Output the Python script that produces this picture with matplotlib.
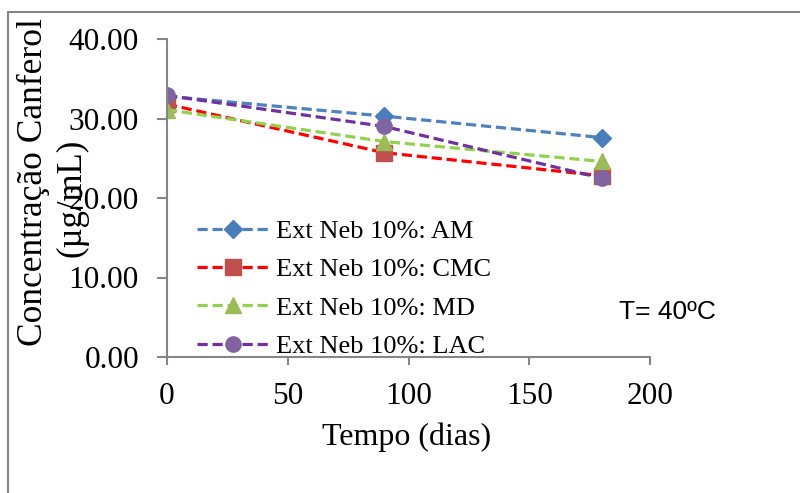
import matplotlib
matplotlib.use('Agg')
import matplotlib.pyplot as plt
from matplotlib.patches import Rectangle
from matplotlib.ticker import FormatStrFormatter

# dados
dias = [0, 90, 180]
am = [32.8, 30.3, 27.6]
cmc = [31.8, 25.7, 22.8]
md = [31.1, 27.1, 24.6]
lac = [32.9, 29.0, 22.5]
rotulos = ['Ext Neb 10%: AM', 'Ext Neb 10%: CMC', 'Ext Neb 10%: MD', 'Ext Neb 10%: LAC']

plt.rcParams['font.family'] = ['Liberation Serif', 'DejaVu Serif']

fig = plt.figure(figsize=(8, 4.93), dpi=100)
ax = fig.add_axes([167/800, 1-357/493, (650-167)/800, (357-39)/493])

cinza = '#868686'
estilo = dict(linestyle=(0, (3.2, 1.5)), linewidth=2.3, markersize=11)
ax.plot(dias, am, color='#4F81BD', marker='D', markerfacecolor='#4A7EBB',
        markeredgecolor='#4A7EBB', label=rotulos[0], **dict(estilo, markersize=9))
ax.plot(dias, cmc, color='#FF0000', marker='s', markerfacecolor='#C0504D',
        markeredgecolor='#C0504D', label=rotulos[1], **estilo)
ax.plot(dias, md, color='#92D050', marker='^', markerfacecolor='#9BBB59',
        markeredgecolor='#9BBB59', label=rotulos[2], **estilo)
ax.plot(dias, lac, color='#7030A0', marker='o', markerfacecolor='#8064A2',
        markeredgecolor='#8064A2', label=rotulos[3], **estilo)

ax.set_xlim(0, 200)
ax.set_ylim(0, 40)
ax.set_xticks([0, 50, 100, 150, 200])
ax.set_yticks([0, 10, 20, 30, 40])
ax.yaxis.set_major_formatter(FormatStrFormatter('%.2f'))
ax.spines['top'].set_visible(False)
ax.spines['right'].set_visible(False)
for s in ['left', 'bottom']:
    ax.spines[s].set_color(cinza)
    ax.spines[s].set_linewidth(1.5)
ax.tick_params(axis='y', length=7.2, width=1.5, color=cinza, pad=13, labelsize=22.5)
ax.tick_params(axis='x', length=5.8, width=1.5, color=cinza, pad=12, labelsize=22.5)

leg = ax.legend(loc='upper left', bbox_to_anchor=(0.04, 0.465), frameon=False,
                fontsize=19, handlelength=2.7, handletextpad=0.3,
                labelspacing=0.56, borderaxespad=0)

fig.text(407/800, 1-437/493, 'Tempo (dias)', fontsize=23, ha='center', va='center')
fig.text(33/800, 1-182/493, 'Concentração Canferol', fontsize=25.5, rotation=90,
         ha='center', va='center')
fig.text(72/800, 1-198/493, '(µg/mL)', fontsize=25, rotation=90,
         ha='center', va='center')
fig.text(667/800, 1-312/493, 'T= 40ºC', fontsize=19, ha='center', va='center',
         family=['Liberation Sans', 'DejaVu Sans'])

# moldura externa do gráfico
fig.patches.append(Rectangle((8/800, -0.1), 1.2, 1.1-12.5/493, transform=fig.transFigure,
                             fill=False, edgecolor=cinza, linewidth=1.5))

fig.savefig('out.png', dpi=100)
